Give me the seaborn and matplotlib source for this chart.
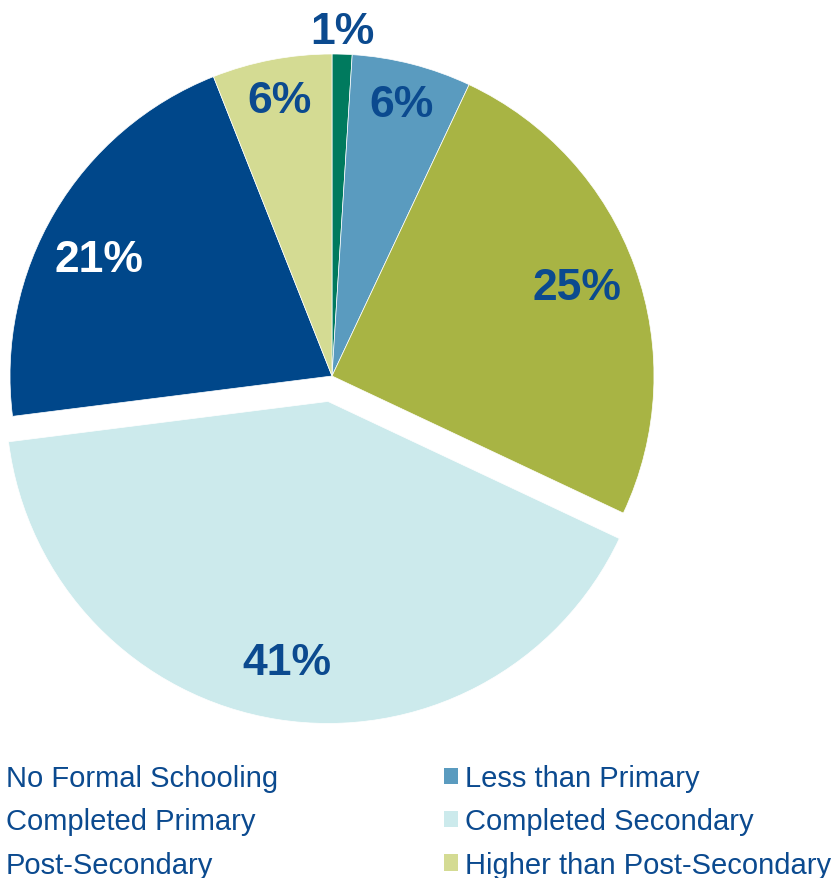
import numpy as np
import matplotlib
matplotlib.use('Agg')
import matplotlib.pyplot as plt
import seaborn as sns
from matplotlib.patches import Patch

# datos
categorias = ['No Formal Schooling', 'Less than Primary', 'Completed Primary',
              'Completed Secondary', 'Post-Secondary', 'Higher than Post-Secondary']
valores = [1, 6, 25, 41, 21, 6]
colores = ['#007A5E', '#5A9BBF', '#A8B444', '#CCEAEC', '#00478A', '#D4DB93']
separar = [0, 0, 0, 0.08, 0, 0]
color_texto = '#0B4A8F'

sns.set_style('white')
plt.rcParams['font.family'] = ['Liberation Sans', 'DejaVu Sans']

fig = plt.figure(figsize=(8.36, 8.79), dpi=100)
W = 740.6
ax = fig.add_axes([-38.3 / 836, 131.7 / 879, W / 836, W / 879])

wedges, textos, pcts = ax.pie(
    valores, colors=colores, explode=separar, startangle=90, counterclock=False,
    autopct='%d%%', pctdistance=0.82,
    wedgeprops=dict(edgecolor='white', linewidth=0.5),
    textprops=dict(fontsize=32, fontweight='bold', color=color_texto))

# ajustar posición de etiquetas (radio y giro en grados)
radios = [1.07, 0.87, 0.81, 0.82, 0.81, 0.87]
giros = [0, 0, 0, 0, 4, 0]
for w, t, r, g in zip(wedges, pcts, radios, giros):
    ang = np.deg2rad((w.theta1 + w.theta2) / 2 + g)
    cx, cy = w.center
    t.set_position((cx + r * np.cos(ang), cy + r * np.sin(ang)))
pcts[4].set_color('white')

ax.set_xlim(-1.15, 1.15)
ax.set_ylim(-1.15, 1.15)
ax.set_aspect('equal')
ax.axis('off')

# leyenda por filas (matplotlib llena por columnas)
orden = [0, 2, 4, 1, 3, 5]
handles = [Patch(facecolor=colores[i], edgecolor='none') for i in orden]
etiquetas = [categorias[i] for i in orden]
leg = fig.legend(handles, etiquetas, ncol=2, loc='upper left',
                 bbox_to_anchor=(-15 / 836, 1 - 765 / 879), frameon=False,
                 fontsize=21, handlelength=0.48, handleheight=0.48,
                 handletextpad=0.24, labelspacing=0.53, columnspacing=5.7,
                 borderpad=0, borderaxespad=0)
for t in leg.get_texts():
    t.set_color(color_texto)

plt.savefig('out.png', dpi=100)
